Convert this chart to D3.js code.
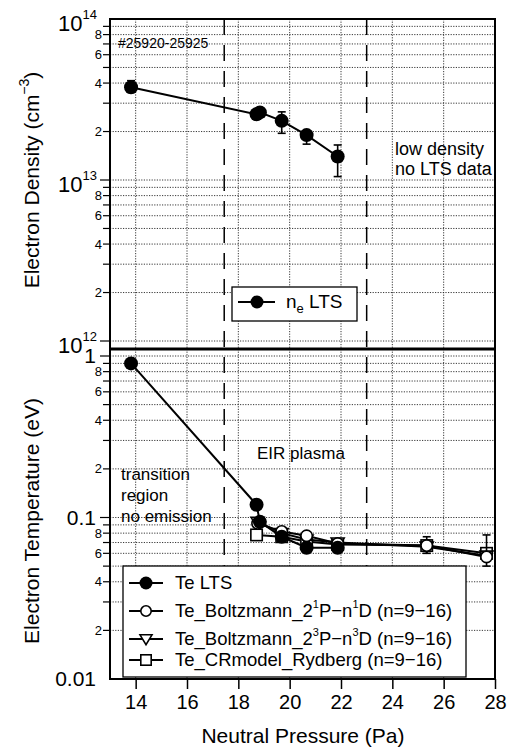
<!DOCTYPE html>
<html><head><meta charset="utf-8">
<script src="https://cdn.jsdelivr.net/npm/d3@7"></script>
<style>
html,body{margin:0;padding:0;background:#fff;}
text{font-family:"Liberation Sans",Arial,sans-serif;fill:#000;}
</style></head>
<body><svg id="c" width="515" height="750"></svg>
<script>
// ---- data ----
const xTicks = [14, 16, 18, 20, 22, 24, 26, 28];
const regionBounds = [17.45, 23.0];

const pressureLTS = [13.82, 18.71, 18.84, 19.69, 20.66, 21.87];
const neLTS      = [3.77e13, 2.56e13, 2.63e13, 2.33e13, 1.90e13, 1.40e13];
const neErrHigh  = [4.14e13, null, null, 2.65e13, 2.0e13, 1.65e13];
const neErrLow   = [3.5e13, null, null, 1.95e13, 1.67e13, 1.05e13];

const teLTS = [0.90, 0.12, 0.094, 0.076, 0.065, 0.065];

const pressureOES = [18.75, 19.69, 20.66, 21.87, 25.34, 27.67];
const pressureCR  = [18.71, 19.69, 20.66, 21.87, 25.34, 27.67];
const te1P  = [0.092, 0.082, 0.077, 0.069, 0.067, 0.057];
const te3P  = [0.094, 0.080, 0.073, 0.070, 0.066, 0.058];
const te3PErrHigh = [null, null, null, null, 0.076, 0.078];
const te3PErrLow  = [null, null, null, null, 0.060, 0.050];
const teCR  = [0.078, 0.076, 0.071, 0.068, 0.067, 0.060];

const topDecades = [12, 13, 14];
const botDecadeLabels = ["0.01", "0.1", "1"];
const minorLabelMult = [2, 4, 6, 8];

// ---- layout ----
const svg = d3.select("#c");
const X0 = 110, X1 = 495, TOP = 19, MID = 349, BOT = 679;
const x = d3.scaleLinear().domain([13, 28]).range([X0, X1]);
const yT = d3.scaleLog().domain([1e12, 1e14]).range([341, TOP]);
const yB = d3.scaleLog().domain([0.01, 1]).range([BOT, 356]);

const g = svg.append("g");

// gridlines
function hgrid(scale, decs, y0, y1) {
  const vals = [];
  decs.forEach(d => { for (let k = 1; k <= 9; k++) vals.push(k * Math.pow(10, d)); });
  vals.push(Math.pow(10, decs[decs.length - 1] + 1));
  vals.forEach(v => {
    const yy = scale(v);
    if (yy < y0 + 1 || yy > y1 - 1) return;
    g.append("line").attr("x1", X0).attr("x2", X1).attr("y1", yy).attr("y2", yy)
      .attr("stroke", "#222").attr("stroke-width", 0.9).attr("stroke-dasharray", "1.2,1.4");
    const major = Math.abs(Math.log10(v) - Math.round(Math.log10(v))) < 1e-9;
    g.append("line").attr("x1", X0 - (major ? 10 : 7)).attr("x2", X0).attr("y1", yy).attr("y2", yy)
      .attr("stroke", "#000").attr("stroke-width", 1.2);
  });
}
hgrid(yT, [12, 13], TOP, MID);
hgrid(yB, [-2, -1], MID, BOT);

xTicks.slice(0, -1).forEach(t => {
  [[TOP, MID], [MID, BOT]].forEach(([a, b]) => {
    g.append("line").attr("x1", x(t)).attr("x2", x(t)).attr("y1", a).attr("y2", b)
      .attr("stroke", "#222").attr("stroke-width", 0.9).attr("stroke-dasharray", "1.2,1.4");
  });
});

// dashed region boundaries
regionBounds.forEach(b => {
  g.append("line").attr("x1", x(b)).attr("x2", x(b)).attr("y1", TOP).attr("y2", 566)
    .attr("stroke", "#000").attr("stroke-width", 1.5).attr("stroke-dasharray", "16,10");
});

// frame
g.append("rect").attr("x", X0).attr("y", TOP).attr("width", X1 - X0).attr("height", BOT - TOP)
  .attr("fill", "none").attr("stroke", "#000").attr("stroke-width", 2);
g.append("line").attr("x1", X0).attr("x2", X1).attr("y1", MID).attr("y2", MID)
  .attr("stroke", "#000").attr("stroke-width", 2.8);

// bottom x axis
const xAxis = d3.axisBottom(x).tickValues(xTicks).tickSize(10).tickPadding(6).tickSizeOuter(0);
const xa = svg.append("g").attr("transform", `translate(0,${BOT})`).call(xAxis);
xa.select(".domain").remove();
xa.selectAll("line").attr("stroke-width", 1.5);
xa.selectAll("text").attr("font-size", 20).attr("font-family", "Liberation Sans, Arial, sans-serif");

// minor labels
minorLabelMult.forEach(m => {
  [12, 13].forEach(d => {
    svg.append("text").attr("x", 102).attr("y", yT(m * Math.pow(10, d)) + 4.5)
      .attr("text-anchor", "end").attr("font-size", 13).text(m);
  });
  [-2, -1].forEach(d => {
    svg.append("text").attr("x", 102).attr("y", yB(m * Math.pow(10, d)) + 4.5)
      .attr("text-anchor", "end").attr("font-size", 13).text(m);
  });
});
// decade labels top
topDecades.forEach(d => {
  const t = svg.append("text").attr("x", 97).attr("y", yT(Math.pow(10, d)) + 12)
    .attr("text-anchor", "end").attr("font-size", 22);
  t.append("tspan").text("10");
  t.append("tspan").attr("font-size", 13).attr("dy", -12).text(d);
});
botDecadeLabels.forEach((lab, i) => {
  svg.append("text").attr("x", 96).attr("y", yB(Math.pow(10, i - 2)) + 7)
    .attr("text-anchor", "end").attr("font-size", 21).text(lab);
});

// axis titles
svg.append("text").attr("x", 303).attr("y", 743).attr("text-anchor", "middle")
  .attr("font-size", 21).text("Neutral Pressure (Pa)");
const ty1 = svg.append("text").attr("transform", "translate(39,180) rotate(-90)")
  .attr("text-anchor", "middle").attr("font-size", 21);
ty1.append("tspan").text("Electron Density (cm");
ty1.append("tspan").attr("font-size", 14).attr("dy", -10).text("−3");
ty1.append("tspan").attr("dy", 10).text(")");
svg.append("text").attr("transform", "translate(39,521) rotate(-90)")
  .attr("text-anchor", "middle").attr("font-size", 21).text("Electron Temperature (eV)");

// annotations
svg.append("text").attr("x", 118).attr("y", 48).attr("font-size", 14).text("#25920-25925");
svg.append("text").attr("x", 395).attr("y", 155).attr("font-size", 18).text("low density");
svg.append("text").attr("x", 395).attr("y", 175).attr("font-size", 18).text("no LTS data");
svg.append("text").attr("x", 257).attr("y", 459).attr("font-size", 17).text("EIR plasma");
["transition", "region", "no emission"].forEach((s, i) => {
  svg.append("text").attr("x", 121).attr("y", 480 + i * 21).attr("font-size", 17).text(s);
});

// markers
function marker(sel, type, cx, cy, s) {
  if (type === "fcircle") sel.append("circle").attr("cx", cx).attr("cy", cy).attr("r", s).attr("fill", "#000");
  else if (type === "ocircle") sel.append("circle").attr("cx", cx).attr("cy", cy).attr("r", s - 0.8).attr("fill", "#fff").attr("stroke", "#000").attr("stroke-width", 1.6);
  else if (type === "square") sel.append("rect").attr("x", cx - s + 0.8).attr("y", cy - s + 0.8).attr("width", 2 * s - 1.6).attr("height", 2 * s - 1.6).attr("fill", "#fff").attr("stroke", "#000").attr("stroke-width", 1.6);
  else if (type === "tri") sel.append("path").attr("d", `M${cx - s},${cy - s * 0.7}L${cx + s},${cy - s * 0.7}L${cx},${cy + s * 0.95}Z`).attr("fill", "#fff").attr("stroke", "#000").attr("stroke-width", 1.6);
}
function errbar(sel, px, hi, lo, ys) {
  sel.append("line").attr("x1", px).attr("x2", px).attr("y1", ys(hi)).attr("y2", ys(lo)).attr("stroke", "#000").attr("stroke-width", 1.6);
  [hi, lo].forEach(v => sel.append("line").attr("x1", px - 4).attr("x2", px + 4).attr("y1", ys(v)).attr("y2", ys(v)).attr("stroke", "#000").attr("stroke-width", 1.6));
}
function series(xs, ys, scale, type, size, eh, el) {
  const sg = svg.append("g");
  const pts = xs.map((p, i) => [x(p), scale(ys[i])]);
  sg.append("path").attr("d", d3.line()(pts)).attr("fill", "none").attr("stroke", "#000").attr("stroke-width", 2);
  if (eh) xs.forEach((p, i) => { if (eh[i] != null) errbar(sg, x(p), eh[i], el[i], scale); });
  pts.forEach(([a, b]) => marker(sg, type, a, b, size));
}

// top panel
series(pressureLTS, neLTS, yT, "fcircle", 7, neErrHigh, neErrLow);
// bottom panel
series(pressureCR, teCR, yB, "square", 6.5);
series(pressureOES, te3P, yB, "tri", 6.5, te3PErrHigh, te3PErrLow);
series(pressureOES, te1P, yB, "ocircle", 6.5);
series(pressureLTS, teLTS, yB, "fcircle", 7);

// top legend
const lg1 = svg.append("g");
lg1.append("rect").attr("x", 232).attr("y", 287).attr("width", 125).attr("height", 34)
  .attr("fill", "#fff").attr("stroke", "#000").attr("stroke-width", 1.3);
lg1.append("line").attr("x1", 238).attr("x2", 275).attr("y1", 302).attr("y2", 302).attr("stroke", "#000").attr("stroke-width", 2);
marker(lg1, "fcircle", 257, 302, 6.5);
const lt = lg1.append("text").attr("x", 286).attr("y", 308).attr("font-size", 19);
lt.append("tspan").text("n");
lt.append("tspan").attr("font-size", 13).attr("dy", 5).text("e");
lt.append("tspan").attr("dy", -5).text(" LTS");

// bottom legend
const lg2 = svg.append("g");
lg2.append("rect").attr("x", 123).attr("y", 566).attr("width", 343).attr("height", 111)
  .attr("fill", "#fff").attr("stroke", "#000").attr("stroke-width", 1.3);
const legRows = [
  { type: "fcircle", cy: 583, parts: [["Te LTS"]] },
  { type: "ocircle", cy: 611, parts: [["Te_Boltzmann_2"], ["1", "sup"], ["P−n"], ["1", "sup"], ["D (n=9−16)"]] },
  { type: "tri", cy: 639, parts: [["Te_Boltzmann_2"], ["3", "sup"], ["P−n"], ["3", "sup"], ["D (n=9−16)"]] },
  { type: "square", cy: 660, parts: [["Te_CRmodel_Rydberg (n=9−16)"]] }
];
legRows.forEach(r => {
  lg2.append("line").attr("x1", 129).attr("x2", 163).attr("y1", r.cy).attr("y2", r.cy).attr("stroke", "#000").attr("stroke-width", 2);
  marker(lg2, r.type, 146, r.cy, r.type === "fcircle" ? 6.5 : 6);
  const t = lg2.append("text").attr("x", 175).attr("y", r.cy + 6).attr("font-size", 18.5);
  let up = false;
  r.parts.forEach(([s, k]) => {
    const ts = t.append("tspan").text(s);
    if (k === "sup") { ts.attr("font-size", 11).attr("dy", -9); up = true; }
    else if (up) { ts.attr("dy", 9); up = false; }
  });
});
</script></body></html>
